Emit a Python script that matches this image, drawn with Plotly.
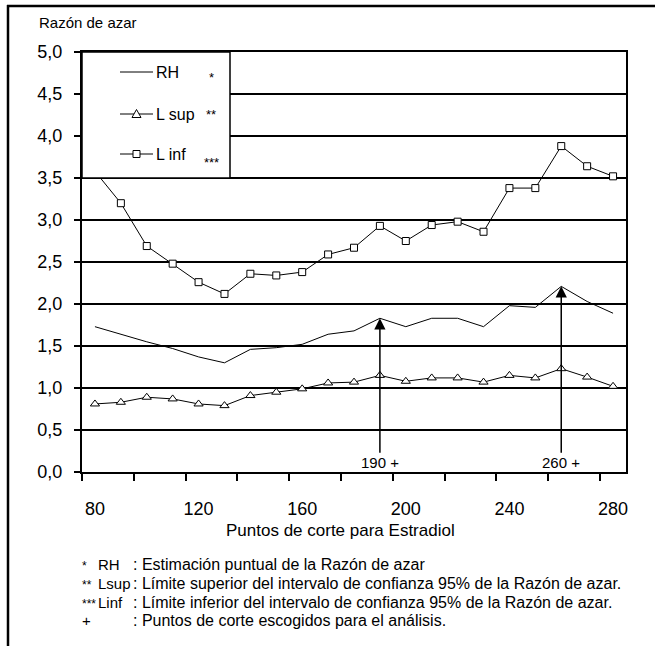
import plotly.graph_objects as go

# ---------------- data ----------------
cut_points = [80, 90, 100, 110, 120, 130, 140, 150, 160, 170, 180,
              190, 200, 210, 220, 230, 240, 250, 260, 270, 280]
rh = [1.73, 1.64, 1.55, 1.47, 1.37, 1.30, 1.46, 1.48, 1.52, 1.64, 1.68,
      1.83, 1.73, 1.83, 1.83, 1.73, 1.98, 1.96, 2.21, 2.03, 1.89]
lsup = [0.81, 0.83, 0.89, 0.87, 0.81, 0.79, 0.91, 0.95, 0.99, 1.06, 1.07,
        1.15, 1.08, 1.12, 1.12, 1.07, 1.15, 1.12, 1.23, 1.13, 1.02]
linf = [3.58, 3.20, 2.69, 2.48, 2.26, 2.12, 2.36, 2.34, 2.38, 2.59, 2.67,
        2.93, 2.75, 2.94, 2.98, 2.86, 3.38, 3.38, 3.88, 3.64, 3.52]
chosen = [190, 260]
x_tick_labels = [80, 120, 160, 200, 240, 280]
x_tick_marks = [75, 95, 115, 135, 155, 175, 195, 215, 235, 255, 275]
y_ticks = [0, 0.5, 1, 1.5, 2, 2.5, 3, 3.5, 4, 4.5, 5]

legend_names = ["RH", "L sup", "L inf"]
legend_marks = ["*", "**", "***"]
notes = [
    ("*", "RH", ": Estimación puntual de la Razón de azar"),
    ("**", "Lsup", ": Límite superior del intervalo de confianza 95% de la Razón de azar."),
    ("***", "Linf", ": Límite inferior del intervalo de confianza 95% de la Razón de azar."),
    ("+", "", ": Puntos de corte escogidos para el análisis."),
]

# ---------------- layout geometry (pixels) ----------------
W, H = 655, 646
PL, PR, PT, PB = 82, 626, 52, 472


def px(xp):
    return (xp - PL) / (PR - PL)


def py(yp):
    return (PB - yp) / (PB - PT)


def ydata(yp):
    return (PB - yp) / (PB - PT) * 5


FONT = "Liberation Sans, Arial, sans-serif"

fig = go.Figure()
# RH is drawn on the overlaying x axis (identical range) that carries the tick labels
fig.add_trace(go.Scatter(x=cut_points, y=rh, mode="lines", name="RH", xaxis="x2",
                         line=dict(color="black", width=1), showlegend=False))
fig.add_trace(go.Scatter(x=cut_points, y=lsup, mode="lines+markers", name="L sup",
                         line=dict(color="black", width=1),
                         marker=dict(symbol="triangle-up", size=8, color="white",
                                     line=dict(color="black", width=1)),
                         showlegend=False))
fig.add_trace(go.Scatter(x=cut_points, y=linf, mode="lines+markers", name="L inf",
                         line=dict(color="black", width=1),
                         marker=dict(symbol="square", size=7, color="white",
                                     line=dict(color="black", width=1)),
                         showlegend=False))

shapes = []
annotations = []

# outer frame (left and top)
shapes.append(dict(type="line", xref="paper", yref="paper", x0=px(8), x1=px(8),
                   y0=py(5), y1=py(H + 5), line=dict(color="black", width=2.5)))
shapes.append(dict(type="line", xref="paper", yref="paper", x0=px(7), x1=px(W + 5),
                   y0=py(6), y1=py(6), line=dict(color="black", width=2.5)))

# legend box
shapes.append(dict(type="rect", xref="paper", yref="y", x0=0, x1=px(230), y0=3.5, y1=5.0,
                   fillcolor="white", line=dict(color="black", width=1.5), layer="above"))
leg_ydata = [ydata(v) for v in (72, 114, 154)]
for i, yv in enumerate(leg_ydata):
    shapes.append(dict(type="line", xref="paper", yref="y", x0=px(120), x1=px(153),
                       y0=yv, y1=yv, line=dict(color="black", width=1), layer="above"))
    annotations.append(dict(xref="paper", yref="y", x=px(154), y=yv, text=legend_names[i],
                            showarrow=False, xanchor="left", yanchor="middle",
                            font=dict(family=FONT, size=16, color="black")))
    off = [-5, 0, -8][i]
    annotations.append(dict(xref="paper", yref="y", x=px(211), y=yv, yshift=off,
                            text=legend_marks[i], showarrow=False, xanchor="center",
                            yanchor="middle", font=dict(family=FONT, size=13, color="black")))
# legend markers
shapes.append(dict(type="path", xref="paper", yref="y", xsizemode="pixel", ysizemode="pixel",
                   xanchor=px(136.5), yanchor=leg_ydata[1],
                   path="M -4.5 -3.5 L 4.5 -3.5 L 0 4.5 Z", fillcolor="white",
                   line=dict(color="black", width=1), layer="above"))
shapes.append(dict(type="rect", xref="paper", yref="y", xsizemode="pixel", ysizemode="pixel",
                   xanchor=px(136.5), yanchor=leg_ydata[2], x0=-3.5, x1=3.5, y0=-3.5, y1=3.5,
                   fillcolor="white", line=dict(color="black", width=1), layer="above"))

# arrows at the chosen cut points
for c in chosen:
    annotations.append(dict(x=c, y=rh[cut_points.index(c)], ax=c, ay=0.11,
                            xref="x", yref="y", axref="x", ayref="y",
                            text=f"{c} +", showarrow=True, arrowhead=2, arrowsize=1.5,
                            arrowwidth=1.5, arrowcolor="black",
                            font=dict(family=FONT, size=15, color="black")))

# y title
annotations.append(dict(xref="paper", yref="paper", x=px(37), y=py(22), text="Razón de azar",
                        showarrow=False, xanchor="left", yanchor="middle",
                        font=dict(family=FONT, size=15, color="black")))
# x title
annotations.append(dict(xref="paper", yref="paper", x=px(340), y=py(530),
                        text="Puntos de corte para Estradiol", showarrow=False,
                        xanchor="center", yanchor="middle",
                        font=dict(family=FONT, size=17, color="black")))
# footnotes
for i, (m, lab, txt) in enumerate(notes):
    yy = py([564, 583, 602, 620][i])
    annotations.append(dict(xref="paper", yref="paper", x=px(80), y=yy, text=m,
                            showarrow=False, xanchor="left", yanchor="middle",
                            yshift=0 if m == "+" else -2,
                            font=dict(family=FONT, size=12 if m != "+" else 15, color="black")))
    if lab:
        annotations.append(dict(xref="paper", yref="paper", x=px(96), y=yy, text=lab,
                                showarrow=False, xanchor="left", yanchor="middle",
                                font=dict(family=FONT, size=15, color="black")))
    annotations.append(dict(xref="paper", yref="paper", x=px(131), y=yy, text=txt,
                            showarrow=False, xanchor="left", yanchor="middle",
                            font=dict(family=FONT, size=16, color="black")))

fig.update_layout(
    width=W, height=H,
    margin=dict(l=PL, r=W - PR, t=PT, b=H - PB, pad=0),
    paper_bgcolor="white", plot_bgcolor="white",
    separators=",.",
    showlegend=False,
    shapes=shapes, annotations=annotations,
    xaxis=dict(range=[75, 285], tickvals=x_tick_marks, ticktext=[""] * len(x_tick_marks),
               ticks="outside", ticklen=7, tickwidth=1.5, tickcolor="black",
               showgrid=False, zeroline=False, showline=True, linecolor="black",
               linewidth=2, mirror=True),
    xaxis2=dict(range=[75, 285], overlaying="x", anchor="y", side="bottom",
                tickvals=x_tick_labels, ticks="", showgrid=False, zeroline=False,
                showline=False, ticklabelstandoff=24,
                tickfont=dict(family=FONT, size=18, color="black")),
    yaxis=dict(range=[0, 5], tickvals=y_ticks, tickformat=".1f", ticks="outside",
               ticklen=6, tickwidth=1.5, tickcolor="black", showgrid=True,
               gridcolor="black", gridwidth=1.5, zeroline=False, showline=True,
               linecolor="black", linewidth=2, mirror=True,
               tickfont=dict(family=FONT, size=18, color="black"),
               ticklabelstandoff=8),
)

fig.write_html("out.html")
